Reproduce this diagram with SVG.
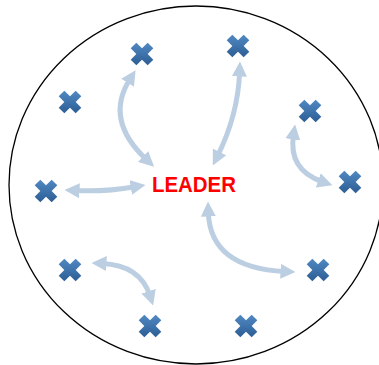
<svg xmlns="http://www.w3.org/2000/svg" xmlns:xlink="http://www.w3.org/1999/xlink" width="379" height="365" viewBox="0 0 379 365">
<style>
.arrow{fill:none;stroke:#bccee1;stroke-width:5;marker-start:url(#ah);marker-end:url(#ah)}
.lbl{font-family:"Liberation Sans",Arial,sans-serif;font-weight:bold;font-size:22px;fill:#ff0000}
</style>
<defs>
<linearGradient id="g" x1="0" y1="0" x2="0" y2="1">
<stop offset="0" stop-color="#5189c4"/>
<stop offset="1" stop-color="#2c5d93"/>
</linearGradient>
<polygon id="x" fill="url(#g)" points="5.66,-11.31 11.31,-5.66 5.66,0 11.31,5.66 5.66,11.31 0,5.66 -5.66,11.31 -11.31,5.66 -5.66,0 -11.31,-5.66 -5.66,-11.31 0,-5.66"/>
<marker id="ah" viewBox="0 0 10 10" refX="3" refY="5" markerWidth="3" markerHeight="3" orient="auto-start-reverse">
<path d="M0,0 L10,5 L0,10 Z" fill="#bccee1"/>
</marker>
</defs>
<ellipse cx="196" cy="185" rx="187" ry="179" fill="#ffffff" stroke="#000000" stroke-width="1.3"/>
<g id="connectors">
<path class="arrow" d="M130,79 Q104,120 146.4,159.5"/>
<path class="arrow" d="M239.6,72 Q238,115 217.5,156"/>
<path class="arrow" d="M75,190.5 Q105,192 135.2,186.7"/>
<path class="arrow" d="M208.3,212 Q210,268 285,271.5"/>
<path class="arrow" d="M102,263.4 Q140,265 149.9,295.5"/>
<path class="arrow" d="M293.5,134.9 Q288,170 322.5,181.8"/>
</g>
<g id="leader"><text class="lbl" x="152" y="192" textLength="84" lengthAdjust="spacingAndGlyphs">LEADER</text></g>
<g id="m1"><use xlink:href="#x" x="142" y="54"/></g>
<g id="m2"><use xlink:href="#x" x="238" y="46"/></g>
<g id="m3"><use xlink:href="#x" x="70" y="102"/></g>
<g id="m4"><use xlink:href="#x" x="310" y="111"/></g>
<g id="m5"><use xlink:href="#x" x="46" y="191"/></g>
<g id="m6"><use xlink:href="#x" x="350" y="182"/></g>
<g id="m7"><use xlink:href="#x" x="70" y="270"/></g>
<g id="m8"><use xlink:href="#x" x="318" y="270"/></g>
<g id="m9"><use xlink:href="#x" x="150" y="326"/></g>
<g id="m10"><use xlink:href="#x" x="246" y="326"/></g>
</svg>
